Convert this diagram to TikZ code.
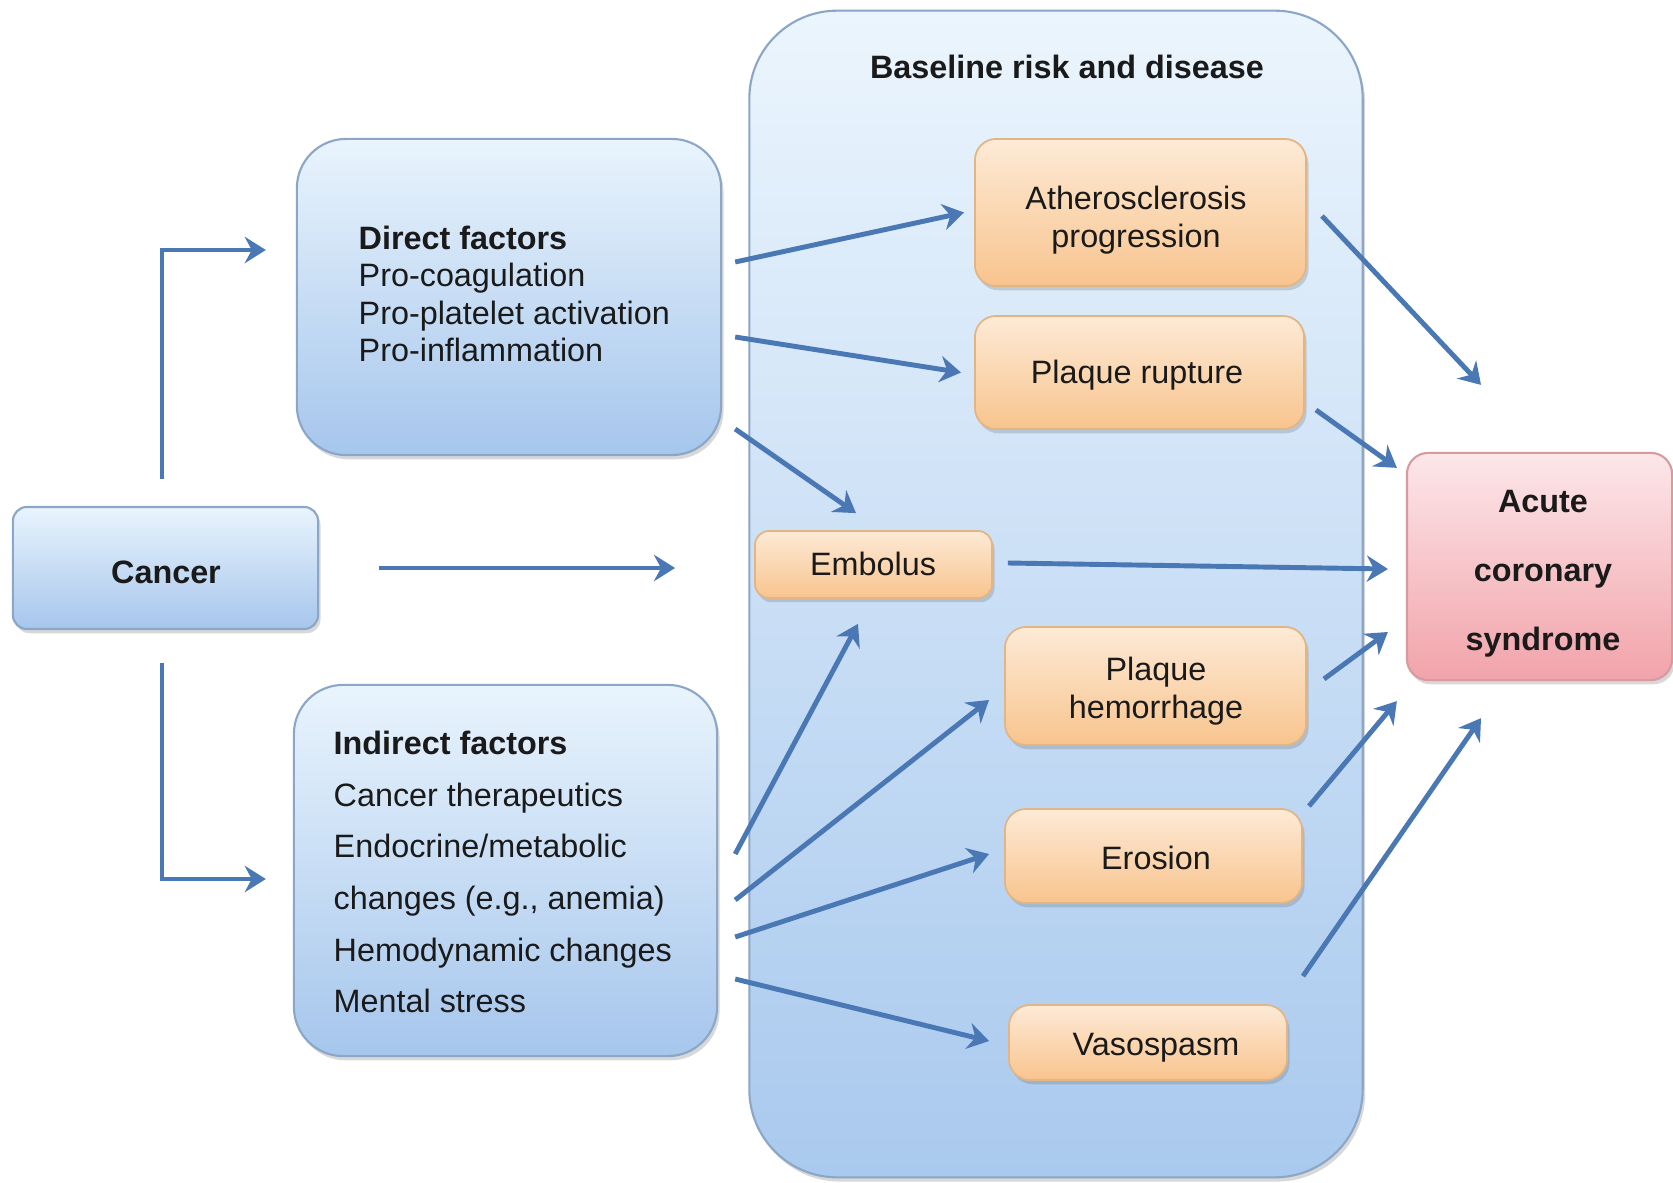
\documentclass[tikz,border=0pt]{standalone}
\usepackage{fontspec}
\setmainfont{Liberation Sans}
\usetikzlibrary{arrows.meta,shadows}
\definecolor{arrowblue}{HTML}{4A78B5}
\definecolor{bluetop}{HTML}{E9F4FD}
\definecolor{bluebot}{HTML}{A6C6EC}
\definecolor{blueborder}{HTML}{8BA6C6}
\definecolor{basetop}{HTML}{EBF5FD}
\definecolor{basebot}{HTML}{A9C9EE}
\definecolor{orangetop}{HTML}{FDEAD6}
\definecolor{orangebot}{HTML}{F8C48E}
\definecolor{orangeborder}{HTML}{E2B584}
\definecolor{acstop}{HTML}{FCE7E9}
\definecolor{acsbot}{HTML}{F1A3AA}
\definecolor{acsborder}{HTML}{D79AA0}
\definecolor{txt}{HTML}{1A1A1A}
\newcommand\myfs{\fontsize{9.2}{10.6}\selectfont}
\newcommand\myfsi{\fontsize{9.2}{14.7}\selectfont}
\newcommand\myfsb{\fontsize{9.2}{10.6}\selectfont\bfseries}
\newcommand\myfsacs{\fontsize{9.2}{19.6}\selectfont\bfseries}
\begin{document}
\begin{tikzpicture}[x=0.01cm,y=-0.01cm,
  every node/.style={inner sep=0pt, text=txt},
  shd/.style={drop shadow={shadow xshift=0.7pt, shadow yshift=-1.2pt, opacity=0.28, fill=black!55}},
  bluebox/.style={draw=blueborder, line width=0.6pt, top color=bluetop, bottom color=bluebot, shd},
  orangebox/.style={draw=orangeborder, line width=0.5pt, top color=orangetop, bottom color=orangebot, shd, rounded corners=6pt},
  boxtext/.style={align=center, font=\myfs},
  arr/.style={draw=arrowblue, line width=1.4pt, -{Stealth[length=6pt,width=7.5pt,inset=2pt]}},
]
\useasboundingbox (0,0) rectangle (1673,1182);
\fill[white] (0,0) rectangle (1673,1182);

% container
\node[draw=blueborder, line width=0.6pt, top color=basetop, bottom color=basebot, shd,
      rounded corners=25pt, minimum width=61.3mm, minimum height=116.6mm] (base) at (1056,594) {};
\node[font=\myfsb] (basetitle) at (1067,67) {Baseline risk and disease};

% left boxes
\node[bluebox, rounded corners=4pt, minimum width=30.5mm, minimum height=12.2mm] (cancer) at (165.5,568) {};
\node[font=\myfsb] (cancertxt) at (166,572.5) {Cancer};
\node[bluebox, rounded corners=14pt, minimum width=42.4mm, minimum height=31.6mm] (direct) at (509,297) {};
\node[anchor=west, align=left, font=\myfs] (directtxt) at (358,294)
  {\textbf{Direct factors}\\Pro-coagulation\\Pro-platelet activation\\Pro-inflammation};
\node[bluebox, rounded corners=14pt, minimum width=42.3mm, minimum height=37.1mm] (indirect) at (505.5,870.5) {};
\node[anchor=west, align=left, font=\myfsi] (indirecttxt) at (333,872)
  {\textbf{Indirect factors}\\Cancer therapeutics\\Endocrine/metabolic\\changes (e.g., anemia)\\Hemodynamic changes\\Mental stress};

% orange boxes
\node[orangebox, minimum width=33.1mm, minimum height=14.7mm] (athero) at (1140.5,212.5) {};
\node[boxtext] (atherotxt) at (1136,220) {Atherosclerosis\\progression};
\node[orangebox, minimum width=32.9mm, minimum height=11.3mm] (rupture) at (1139.5,372.5) {};
\node[boxtext] (rupturetxt) at (1137,375.5) {Plaque rupture};
\node[orangebox, rounded corners=4pt, minimum width=23.7mm, minimum height=6.7mm] (embolus) at (873.5,564.5) {};
\node[boxtext] (embolustxt) at (873,563.5) {Embolus};
\node[orangebox, minimum width=30.1mm, minimum height=11.8mm] (hemorrhage) at (1155.5,686) {};
\node[boxtext] (hemorrhagetxt) at (1156,691) {Plaque\\hemorrhage};
\node[orangebox, minimum width=29.7mm, minimum height=9.4mm] (erosion) at (1153.5,856) {};
\node[boxtext] (erosiontxt) at (1156,858) {Erosion};
\node[orangebox, minimum width=27.8mm, minimum height=7.5mm] (vasospasm) at (1148,1042.5) {};
\node[boxtext] (vasospasmtxt) at (1156,1048) {Vasospasm};

% outcome
\node[draw=acsborder, line width=0.6pt, top color=acstop, bottom color=acsbot, shd, rounded corners=6pt,
      minimum width=26.5mm, minimum height=22.7mm] (acs) at (1539.5,566.5) {};
\node[align=center, font=\myfsacs] (acstxt) at (1543,574) {Acute\\coronary\\syndrome};

% connectors
\draw[arr] ([shift={(-3.5,-27)}]cancer.north) |- ([shift={(-30,-47)}]direct.west);
\draw[arr] ([shift={(-3.5,33)}]cancer.south) |- ([shift={(-27,8.5)}]indirect.west);
\draw[arr] ([shift={(60,0)}]cancer.east) -- ([shift={(-79,3.5)}]embolus.west);

\draw[arr] ([shift={(13,-35)}]direct.east) -- ([shift={(-10,0)}]athero.west);
\draw[arr] ([shift={(13,40)}]direct.east) -- ([shift={(-13,0)}]rupture.west);
\draw[arr] ([shift={(13,132)}]direct.east) -- ([shift={(-17.5,-17)}]embolus.north);

\draw[arr] ([shift={(17,-16.5)}]indirect.east) -- ([shift={(-15.5,25)}]embolus.south);
\draw[arr] ([shift={(17,29.5)}]indirect.east) -- ([shift={(-15,14)}]hemorrhage.west);
\draw[arr] ([shift={(17,66.5)}]indirect.east) -- ([shift={(-15,-2)}]erosion.west);
\draw[arr] ([shift={(17,108.5)}]indirect.east) -- ([shift={(-19,-1.5)}]vasospasm.west);

\draw[arr] ([shift={(15,-1.5)}]embolus.east) -- ([shift={(-18,2.5)}]acs.west);
\draw[arr] ([shift={(15,3.5)}]athero.east) -- ([shift={(-58.5,-67)}]acs.north);
\draw[arr] ([shift={(11,37.5)}]rupture.east) -- ([shift={(-9,16)}]acs.north west);
\draw[arr] ([shift={(17,-7)}]hemorrhage.east) -- ([shift={(-18,65.5)}]acs.west);
\draw[arr] ([shift={(6,-2)}]erosion.north east) -- ([shift={(-9,20)}]acs.south west);
\draw[arr] ([shift={(15,-28)}]vasospasm.north east) -- ([shift={(-58.5,37)}]acs.south);
\end{tikzpicture}
\end{document}
